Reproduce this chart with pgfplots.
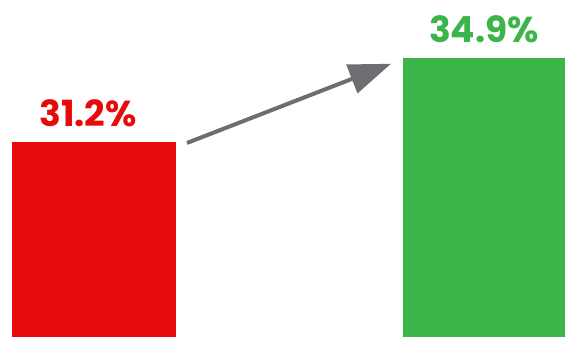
\documentclass[border=0pt]{standalone}
\usepackage{pgfplots}
\pgfplotsset{compat=1.18}
\usepackage{fontspec}
\setmainfont{Poppins}
\usetikzlibrary{arrows.meta}
\definecolor{cred}{HTML}{E60A0A}
\definecolor{cgreen}{HTML}{3BB54A}
\definecolor{carrow}{HTML}{6D6E71}
\begin{document}
\begin{tikzpicture}
\begin{axis}[
  scale only axis, width=565pt, height=337pt,
  xmin=0, xmax=565, ymin=22.6, ymax=37.45,
  hide axis, clip=false,
  ybar, bar width=164, bar shift=0pt,
  nodes near coords,
  nodes near coords style={anchor=south, inner sep=0pt, yshift=15pt, font=\fontsize{36}{36}\selectfont\bfseries},
  point meta=explicit symbolic,
]
\path (axis cs:0,22.6) rectangle (axis cs:565,37.45);
\addplot[fill=cred, draw=none, bar shift=0pt, nodes near coords style={text=cred, xshift=-6pt}] coordinates {(94,31.2) [31.2\%]};
\addplot[fill=cgreen, draw=none, bar width=162, bar shift=0pt, nodes near coords style={text=cgreen}] coordinates {(484,34.9) [34.9\%]};
\draw[carrow, line width=4pt, -{Triangle[length=42pt,width=30pt]}] (axis cs:187,31.15) -- (axis cs:391,34.64);
\end{axis}
\end{tikzpicture}
\end{document}
